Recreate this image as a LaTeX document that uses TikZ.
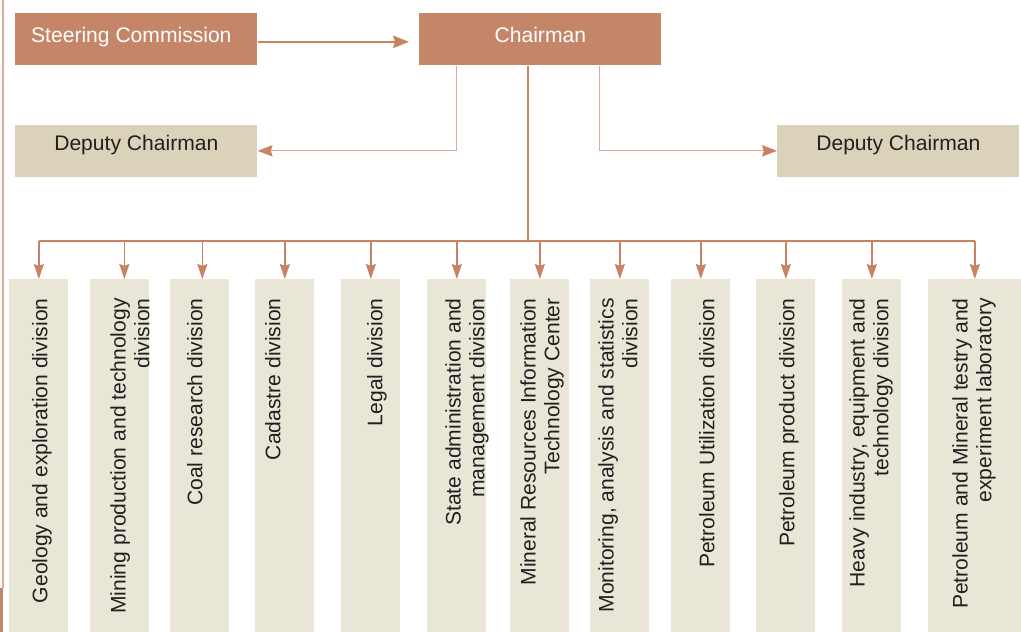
\documentclass[tikz,border=0pt]{standalone}
\usepackage{fontspec}
\setmainfont{Liberation Sans}
\usepackage{tikz}
\usetikzlibrary{arrows.meta,positioning,calc}
\usepackage{xcolor}

\definecolor{chairbrown}{RGB}{197,133,104}
\definecolor{deputytan}{RGB}{218,211,185}
\definecolor{divcream}{RGB}{234,230,215}
\definecolor{linkbrown}{RGB}{200,130,100}
\definecolor{linklight}{RGB}{220,172,152}
\definecolor{txtgray}{RGB}{35,31,32}

\begin{document}
\begin{tikzpicture}[
    x=0.02cm, y=-0.02cm,
    cell/.style={rectangle, inner sep=0pt, fill=#1, font=\fontsize{12}{13.6}\selectfont, text=txtgray},
    cell/.default=divcream,
    top/.style={cell=chairbrown, text=white, minimum width=4.84cm, minimum height=1.04cm, text height=9pt, text depth=5.6pt},
    deputy/.style={cell=deputytan, minimum width=4.84cm, minimum height=1.04cm, text height=8pt, text depth=8pt},
    division/.style={cell, anchor=north west, minimum width=1.18cm, minimum height=7.06cm},
    lbl/.style={rotate=90, anchor=south east, align=right, inner sep=0pt, text=txtgray, font=\fontsize{12}{13.6}\selectfont, execute at begin node=\strut, execute at end node=\strut},
    arr/.style={-{Stealth[length=9pt, width=7pt, inset=1pt]}, line width=1.1pt, draw=linkbrown},
    link/.style={-{Stealth[length=8.5pt, width=6.5pt, inset=1pt, color=linkbrown]}, line width=0.7pt, draw=linklight},
    bus/.style={line width=1.4pt, draw=linkbrown},
    drop/.style={-{Stealth[length=8.5pt, width=5.7pt, inset=1pt]}, line width=0.85pt, draw=linkbrown}
]
\useasboundingbox (0,0) rectangle (1021,632);

% page edge
\draw[draw=linklight, line width=1pt] (3,0) -- (3,588);
\fill[chairbrown] (0,588) rectangle (3.3,632);

% Top level
\node[top, anchor=north west] (steer) at (15,13) {Steering Commission\hspace*{0.2cm}};
\node[top, anchor=north west] (chair) at (419,13) {Chairman};

% Deputies
\node[deputy, anchor=north west] (depl) at (15,124.5) {Deputy Chairman};
\node[deputy, anchor=north west] (depr) at (777,124.5) {Deputy Chairman};

% Divisions
\node[division] (c1) at (9,279) {};
\node[division] (c2) at (90,279) {};
\node[division] (c3) at (170,279) {};
\node[division] (c4) at (255,279) {};
\node[division] (c5) at (341,279) {};
\node[division] (c6) at (427,279) {};
\node[division] (c7) at (510,279) {};
\node[division] (c8) at (590,279) {};
\node[division] (c9) at (671,279) {};
\node[division] (c10) at (756,279) {};
\node[division] (c11) at (842,279) {};
\node[division, minimum width=1.86cm] (c12) at (928,279) {};

\node[lbl] (t1) at (55,298) {Geology and exploration division};
\node[lbl] (t2) at (157,298) {Mining production and technology\\division};
\node[lbl] (t3) at (210,298) {Coal research division};
\node[lbl] (t4) at (288,298) {Cadastre division};
\node[lbl] (t5) at (390,298) {Legal division};
\node[lbl] (t6) at (492,298) {State administration and\\management division};
\node[lbl] (t7) at (567,298) {Mineral Resources Information\\Technology Center};
\node[lbl] (t8) at (645,298) {Monitoring, analysis and statistics\\division};
\node[lbl] (t9) at (722,298) {Petroleum Utilization division};
\node[lbl] (t10) at (802,298) {Petroleum product division};
\node[lbl] (t11) at (896,298) {Heavy industry, equipment and\\technology division};
\node[lbl] (t12) at (999,298) {Petroleum and Mineral testry and\\experiment laboratory};

% Arrows
\draw[arr] ([yshift=-0.05cm]steer.east) -- ([yshift=-0.05cm, xshift=-0.2cm]chair.west);
\draw[link] ($(chair.south west)+(37.5,0)$) |- (depl);
\draw[link] ($(chair.south west)+(180.5,0)$) |- (depr);

\coordinate (bus) at (528,241);
\coordinate (d2) at ($(c2.north)+(4.5,0)$);
\coordinate (d3) at ($(c3.north)+(2.5,0)$);
\draw[bus] (bus |- chair.south) -- (bus);
\draw[bus] (c1.north |- bus) -- (c12.north |- bus);

\draw[drop] (c1.north |- bus) -- (c1.north);
\draw[drop] (d2 |- bus) -- (d2);
\draw[drop] (d3 |- bus) -- (d3);
\draw[drop] (c4.north |- bus) -- (c4.north);
\draw[drop] (c5.north |- bus) -- (c5.north);
\draw[drop] (c6.north |- bus) -- (c6.north);
\draw[drop] (c7.north |- bus) -- (c7.north);
\draw[drop] (c8.north |- bus) -- (c8.north);
\draw[drop] (c9.north |- bus) -- (c9.north);
\draw[drop] (c10.north |- bus) -- (c10.north);
\draw[drop] (c11.north |- bus) -- (c11.north);
\draw[drop] (c12.north |- bus) -- (c12.north);

\end{tikzpicture}
\end{document}
